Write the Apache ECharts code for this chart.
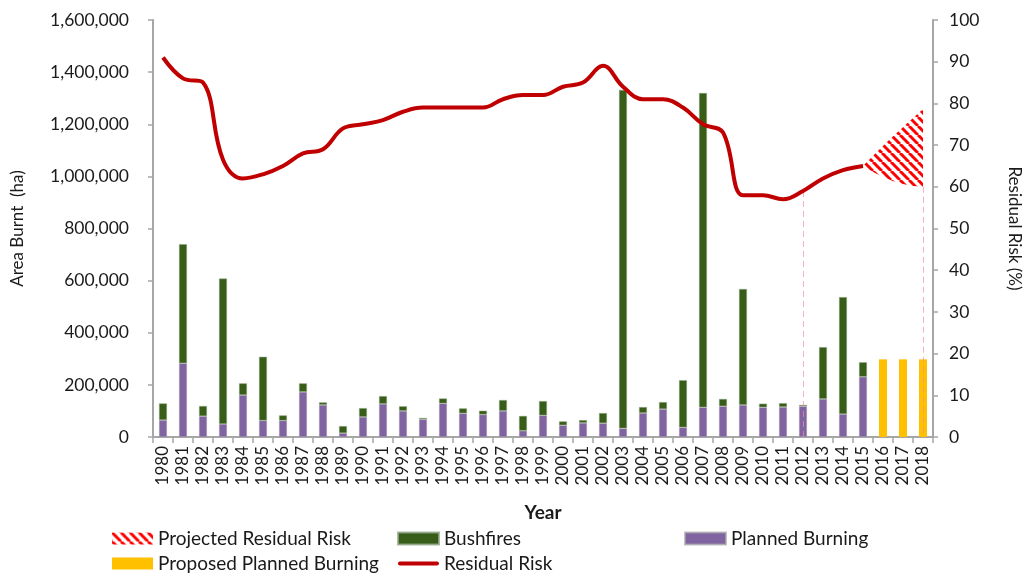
<!DOCTYPE html>
<html><head><meta charset="utf-8">
<script src="https://cdn.jsdelivr.net/npm/echarts@6/dist/echarts.min.js"></script>
<style>html,body{margin:0;padding:0;background:#fff}#c{width:1031px;height:574px}</style>
</head><body><div id="c"></div>
<script>
const years = ['1980','1981','1982','1983','1984','1985','1986','1987','1988','1989','1990','1991','1992','1993','1994','1995','1996','1997','1998','1999','2000','2001','2002','2003','2004','2005','2006','2007','2008','2009','2010','2011','2012','2013','2014','2015','2016','2017','2018'];
const plannedBurning = [65000,283000,80000,50000,161000,63000,63000,173000,123000,15000,77000,127000,100000,68000,129000,91000,86000,100000,24000,83000,45000,54000,53000,33000,92000,107000,37000,114000,118000,123000,114000,115000,118000,146000,88000,231000,null,null,null];
const bushfires = [64000,457000,39000,558000,45000,245000,20000,33000,10000,27000,34000,30000,18000,5000,19000,19000,15000,42000,57000,55000,15000,11000,39000,1299000,23000,27000,181000,1206000,28000,445000,14000,15000,5000,199000,449000,56000,null,null,null];
const proposedBurning = [null,null,null,null,null,null,null,null,null,null,null,null,null,null,null,null,null,null,null,null,null,null,null,null,null,null,null,null,null,null,null,null,null,null,null,null,298000,298000,298000];
const residualRisk = [91,86,85,66.5,62,63,65,68,69,74,75,76,78,79,79,79,79,81,82,82,84,85,89,84,81,81,79,75,73,58,58,57,59,62,64,65,null,null,null];
const projectedLower = [null,null,null,null,null,null,null,null,null,null,null,null,null,null,null,null,null,null,null,null,null,null,null,null,null,null,null,null,null,null,null,null,null,null,null,65,62.4,60.7,60];
const projectedBand = [null,null,null,null,null,null,null,null,null,null,null,null,null,null,null,null,null,null,null,null,null,null,null,null,null,null,null,null,null,null,null,null,null,null,null,0,7.4,13.6,18.6];

// hatch pattern
const P = 9;
const pc = document.createElement('canvas');
pc.width = P; pc.height = P;
const ctx = pc.getContext('2d');
ctx.fillStyle = '#ffffff'; ctx.fillRect(0,0,P,P);
ctx.strokeStyle = '#ff0000'; ctx.lineWidth = 3;
for (const k of [-P, 0, P]) { ctx.beginPath(); ctx.moveTo(k, 0); ctx.lineTo(k + P, P); ctx.stroke(); }
const hatch = { image: pc, repeat: 'repeat' };

const FONT = 'Lato';
const chart = echarts.init(document.getElementById('c'));
const legendText = { fontFamily: FONT, fontSize: 19, color: '#1a1a1a' };
const lg = { top: 529, orient: 'vertical', padding: 0, itemWidth: 41, itemHeight: 12, itemGap: 6, textStyle: legendText };
chart.setOption({
  animation: false,
  textStyle: { fontFamily: FONT },
  grid: { left: 153, right: 95, top: 20, bottom: 137 },
  legend: [
    Object.assign({ left: 112, data: [{ name: 'Projected Residual Risk', icon: 'rect', itemStyle: { color: hatch } }, { name: 'Proposed Planned Burning', icon: 'rect' }] }, lg),
    Object.assign({ left: 397, data: [{ name: 'Bushfires', icon: 'rect' }, { name: 'Residual Risk', icon: 'path://M2,0 L41,0 A2,2 0 0 1 41,4 L2,4 A2,2 0 0 1 2,0 Z' }] }, lg),
    Object.assign({ left: 684, data: [{ name: 'Planned Burning', icon: 'rect' }] }, lg)
  ],
  xAxis: {
    type: 'category', data: years, boundaryGap: true,
    name: 'Year', nameLocation: 'middle', nameGap: 66,
    nameTextStyle: { fontFamily: FONT, fontSize: 19, fontWeight: 'bold', color: '#1a1a1a' },
    axisLine: { lineStyle: { color: '#a6a6a6', width: 2 } },
    axisTick: { show: true, length: 6, alignWithLabel: false, lineStyle: { color: '#a6a6a6', width: 1.5 } },
    axisLabel: { rotate: 90, interval: 0, fontSize: 17, color: '#1a1a1a', margin: 9, fontFamily: FONT }
  },
  yAxis: [
    { type: 'value', min: 0, max: 1600000, interval: 200000,
      name: 'Area Burnt  (ha)', nameLocation: 'middle', nameGap: 127, nameRotate: 90,
      nameTextStyle: { fontFamily: FONT, fontSize: 17, color: '#1a1a1a' },
      axisLine: { show: true, lineStyle: { color: '#a6a6a6', width: 2 } },
      axisTick: { show: true, length: 5, lineStyle: { color: '#a6a6a6', width: 1.5 } },
      splitLine: { show: false },
      axisLabel: { fontSize: 17.5, color: '#1a1a1a', margin: 24, fontFamily: FONT, formatter: v => v.toLocaleString('en-US') } },
    { type: 'value', min: 0, max: 100, interval: 10, position: 'right',
      name: 'Residual Risk (%)', nameLocation: 'middle', nameGap: 73, nameRotate: -90,
      nameTextStyle: { fontFamily: FONT, fontSize: 17, color: '#1a1a1a' },
      axisLine: { show: true, lineStyle: { color: '#a6a6a6', width: 2 } },
      axisTick: { show: true, length: 5, lineStyle: { color: '#a6a6a6', width: 1.5 } },
      splitLine: { show: false },
      axisLabel: { fontSize: 17.5, color: '#1a1a1a', margin: 16, fontFamily: FONT } }
  ],
  series: [
    { name: 'Planned Burning', type: 'bar', stack: 'area', barWidth: 8, data: plannedBurning,
      itemStyle: { color: '#8064A2', borderColor: 'rgba(170,170,170,0.7)', borderWidth: 0.6 } },
    { name: 'Bushfires', type: 'bar', stack: 'area', barWidth: 8, data: bushfires,
      itemStyle: { color: '#385D18', borderColor: 'rgba(150,170,140,0.8)', borderWidth: 0.6 } },
    { name: 'Proposed Planned Burning', type: 'bar', stack: 'area', barWidth: 8, data: proposedBurning,
      itemStyle: { color: '#FFC000' } },
    { name: 'projLower', type: 'line', yAxisIndex: 1, stack: 'proj', data: projectedLower, smooth: true,
      symbol: 'none', lineStyle: { width: 0, opacity: 0 }, z: 3 },
    { name: 'Projected Residual Risk', type: 'line', yAxisIndex: 1, stack: 'proj', data: projectedBand, smooth: true,
      symbol: 'none', lineStyle: { width: 0, opacity: 0 }, itemStyle: { color: '#ff0000' },
      areaStyle: { color: hatch, opacity: 1 }, z: 3 },
    { name: 'Residual Risk', type: 'line', yAxisIndex: 1, data: residualRisk, smooth: 0.4,
      symbol: 'none', lineStyle: { color: '#C00000', width: 4 }, itemStyle: { color: '#C00000' }, z: 5,
      markLine: { silent: true, symbol: 'none', label: { show: false },
        lineStyle: { color: '#f28fa3', type: [6, 4], width: 1, opacity: 0.7 },
        data: [ [ { coord: [32, 59] }, { coord: [32, 0] } ], [ { coord: [38, 60] }, { coord: [38, 0] } ] ] } }
  ]
});
</script></body></html>
